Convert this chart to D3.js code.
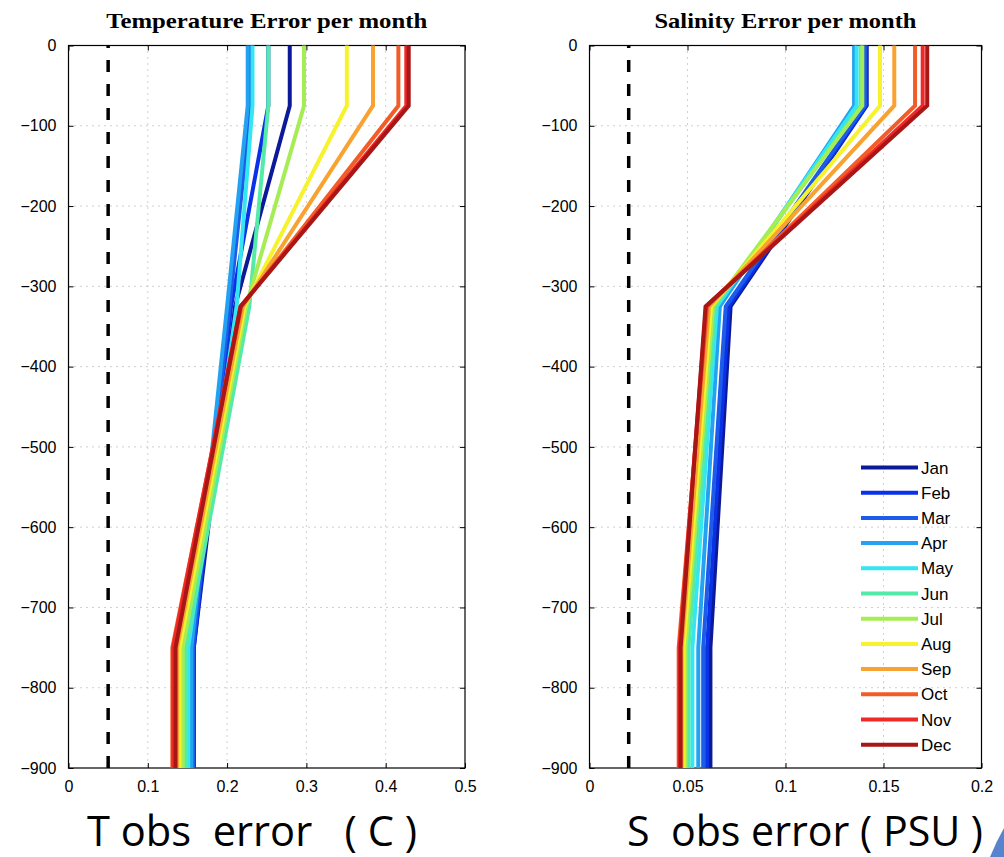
<!DOCTYPE html>
<html><head><meta charset="utf-8">
<script src="https://cdn.jsdelivr.net/npm/d3@7"></script>
<style>
html,body{margin:0;padding:0;background:#fff;}
svg{display:block;}
</style></head>
<body>
<svg id="chart" width="1004" height="857"></svg>
<script>
// ---------------- DATA ----------------
const months = ["Jan","Feb","Mar","Apr","May","Jun","Jul","Aug","Sep","Oct","Nov","Dec"];
const depths = [0, -75, -325, -750, -900];
const monthColors = ["#0c1a9a","#0a30e8","#1c5ce8","#24a2f2","#34e6f2","#54eaa8","#a6ec54","#f6f22c","#f8a232","#f25c26","#f02828","#a81616"];

// Temperature error (C) per month at each depth
const tempJan = [0.279, 0.279, 0.210, 0.158, 0.158];
const tempFeb = [0.252, 0.252, 0.205, 0.158, 0.158];
const tempMar = [0.230, 0.230, 0.203, 0.157, 0.157];
const tempApr = [0.226, 0.226, 0.200, 0.155, 0.155];
const tempMay = [0.232, 0.232, 0.212, 0.151, 0.151];
const tempJun = [0.252, 0.252, 0.228, 0.148, 0.148];
const tempJul = [0.297, 0.297, 0.224, 0.144, 0.144];
const tempAug = [0.351, 0.351, 0.222, 0.140, 0.140];
const tempSep = [0.384, 0.384, 0.220, 0.137, 0.137];
const tempOct = [0.416, 0.416, 0.218, 0.131, 0.131];
const tempNov = [0.426, 0.426, 0.217, 0.132, 0.132];
const tempDec = [0.429, 0.429, 0.217, 0.135, 0.135];

// Salinity error (PSU) per month at each depth
const salJan = [0.1414, 0.1414, 0.0720, 0.0617, 0.0617];
const salFeb = [0.1412, 0.1412, 0.0710, 0.0600, 0.0600];
const salMar = [0.1405, 0.1405, 0.0695, 0.0580, 0.0580];
const salApr = [0.1350, 0.1350, 0.0665, 0.0555, 0.0555];
const salMay = [0.1363, 0.1363, 0.0650, 0.0525, 0.0525];
const salJun = [0.1385, 0.1385, 0.0640, 0.0505, 0.0505];
const salJul = [0.1392, 0.1392, 0.0630, 0.0490, 0.0490];
const salAug = [0.1482, 0.1482, 0.0620, 0.0480, 0.0480];
const salSep = [0.1555, 0.1555, 0.0610, 0.0470, 0.0470];
const salOct = [0.1661, 0.1661, 0.0600, 0.0455, 0.0455];
const salNov = [0.1700, 0.1700, 0.0595, 0.0460, 0.0460];
const salDec = [0.1723, 0.1723, 0.0592, 0.0465, 0.0465];

const tempTicks = [0, 0.1, 0.2, 0.3, 0.4, 0.5];
const salTicks = [0, 0.05, 0.1, 0.15, 0.2];
const depthTicks = [0, -100, -200, -300, -400, -500, -600, -700, -800, -900];
const tempRef = 0.05;
const salRef = 0.02;

// -------------- DRAW ---------------
const svg = d3.select("#chart");
const tempSeries = [tempJan,tempFeb,tempMar,tempApr,tempMay,tempJun,tempJul,tempAug,tempSep,tempOct,tempNov,tempDec];
const salSeries = [salJan,salFeb,salMar,salApr,salMay,salJun,salJul,salAug,salSep,salOct,salNov,salDec];

const yTop = 45.5, yBot = 768;
const y = d3.scaleLinear().domain([0, -900]).range([yTop, yBot]);

function fmtTick(d){
  if (d === 0) return "0";
  const s = String(Math.abs(d));
  return (d < 0 ? "\u2212" : "") + s;
}

function panel(opts){
  const {x0, x1, domain, xticks, series, ref, title, titleW, xlabel, xlabelSpan, legend} = opts;
  const x = d3.scaleLinear().domain(domain).range([x0, x1]);
  const g = svg.append("g");

  // grid
  g.append("g").selectAll("line").data(xticks.slice(1, -1)).join("line")
    .attr("x1", d => x(d)).attr("x2", d => x(d)).attr("y1", yTop).attr("y2", yBot)
    .attr("stroke", "#a0a0a0").attr("stroke-width", 1).attr("stroke-dasharray", "1,5");
  g.append("g").selectAll("line").data(depthTicks.slice(1, -1)).join("line")
    .attr("x1", x0).attr("x2", x1).attr("y1", d => y(d)).attr("y2", d => y(d))
    .attr("stroke", "#a0a0a0").attr("stroke-width", 1).attr("stroke-dasharray", "1,5");

  // axes with inward ticks
  const axB = d3.axisBottom(x).tickValues(xticks).tickSize(-5).tickPadding(13).tickFormat(fmtTick);
  const axT = d3.axisTop(x).tickValues(xticks).tickSize(-5).tickFormat("");
  const axL = d3.axisLeft(y).tickValues(depthTicks).tickSize(-5).tickPadding(12).tickFormat(fmtTick);
  const axR = d3.axisRight(y).tickValues(depthTicks).tickSize(-5).tickFormat("");
  [[axB, `translate(0,${yBot})`],[axT, `translate(0,${yTop})`],[axL, `translate(${x0},0)`],[axR, `translate(${x1},0)`]].forEach(([ax, tr]) => {
    const a = g.append("g").attr("transform", tr).call(ax);
    a.select(".domain").remove();
    a.selectAll(".tick line").attr("stroke", "#000");
    a.selectAll("text").attr("font-family", "Liberation Sans, Arial, sans-serif").attr("font-size", 16).attr("fill", "#000");
  });
  g.append("rect").attr("x", x0).attr("y", yTop).attr("width", x1 - x0).attr("height", yBot - yTop)
    .attr("fill", "none").attr("stroke", "#000").attr("stroke-width", 1.2);

  // reference dashed line (drawn bottom to top)
  g.append("line").attr("x1", x(ref)).attr("x2", x(ref)).attr("y1", yBot).attr("y2", yTop)
    .attr("stroke", "#000").attr("stroke-width", 3.5).attr("stroke-dasharray", "12,12");

  // monthly profiles
  const line = d3.line().x(d => x(d[0])).y(d => y(d[1]));
  series.forEach((vals, i) => {
    g.append("path").datum(vals.map((v, k) => [v, depths[k]]))
      .attr("d", line).attr("fill", "none").attr("stroke", monthColors[i])
      .attr("stroke-width", 4).attr("stroke-linejoin", "miter");
  });

  // title
  g.append("text").attr("x", (x0 + x1) / 2 - titleW / 2).attr("y", 28)
    .attr("font-family", "Liberation Serif, Times New Roman, serif").attr("font-weight", "bold")
    .attr("font-size", 21).attr("textLength", titleW).attr("lengthAdjust", "spacingAndGlyphs").text(title);

  // x label
  g.append("text").attr("x", xlabelSpan[0]).attr("y", 846)
    .attr("font-family", "Open Sans, Noto Sans, sans-serif").attr("font-size", 42)
    .attr("textLength", xlabelSpan[1] - xlabelSpan[0]).attr("lengthAdjust", "spacingAndGlyphs")
    .style("white-space", "pre").text(xlabel);

  if (legend) {
    const lg = g.append("g");
    months.forEach((m, i) => {
      const yy = 467.5 + i * 25.2;
      lg.append("line").attr("x1", 861).attr("x2", 918).attr("y1", yy).attr("y2", yy)
        .attr("stroke", monthColors[i]).attr("stroke-width", 4);
      lg.append("text").attr("x", 921).attr("y", yy + 6)
        .attr("font-family", "Liberation Sans, Arial, sans-serif").attr("font-size", 17).text(m);
    });
  }
}

panel({x0: 68.5, x1: 465, domain: [0, 0.5], xticks: tempTicks, series: tempSeries, ref: tempRef,
  title: "Temperature Error per month", titleW: 321, xlabel: "T obs  error   ( C )", xlabelSpan: [87, 417], legend: false});
panel({x0: 589.5, x1: 981.5, domain: [0, 0.2], xticks: salTicks, series: salSeries, ref: salRef,
  title: "Salinity Error per month", titleW: 262, xlabel: "S  obs error ( PSU )", xlabelSpan: [627, 983], legend: true});

// small blue corner fragment seen at the bottom-right edge of the reference image
svg.append("path").attr("d", "M1004,828 Q996,842 990,857 L1004,857 Z").attr("fill", "#3a6fc4").attr("opacity", 0.85);
</script>
</body></html>
